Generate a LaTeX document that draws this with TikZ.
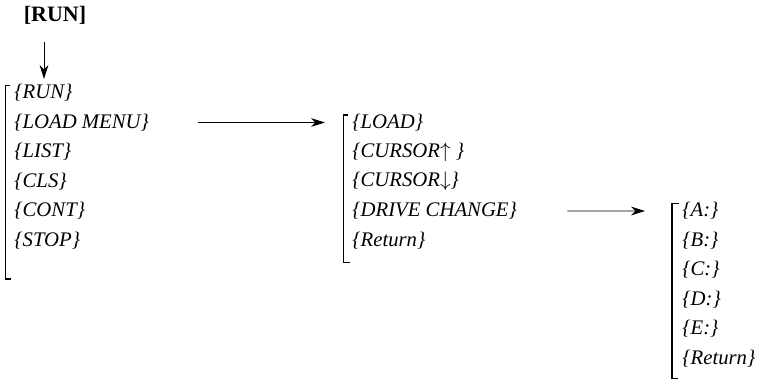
\documentclass[tikz,border=0pt]{standalone}
\usepackage{fontspec}
\setmainfont{Liberation Serif}
\usetikzlibrary{arrows.meta}
\tikzset{
    item/.style={anchor=west, inner sep=0pt, font=\itshape\fontsize{11.8}{14}\selectfont},
    head/.style={inner sep=0pt, font=\bfseries\fontsize{12.5}{15}\selectfont},
    arr/.style={-{Stealth[length=8pt,width=5pt]}, line width=0.55pt},
    brak/.style={line width=0.8pt}
}
\begin{document}
\begin{tikzpicture}
        \useasboundingbox (0,0) rectangle (15.14,-7.62);
        \node [head] (run) at (1.1,-0.30) {[RUN]};
        \coordinate (runtip) at (0.88,-1.58);
        \draw [arr, shorten <=10pt] (run.south -| runtip) -- (runtip);
        \foreach \t [count=\i] in {RUN,LOAD MENU,LIST,CLS,CONT,STOP}
            \node [item] (a\i) at (0.28,{-1.86-0.59*(\i-1)}) {\{\t\}};
        \foreach \t [count=\i] in {LOAD,CURSOR$\uparrow$\ ,CURSOR$\downarrow$,DRIVE CHANGE,Return}
            \node [item] (b\i) at (7.04,{-2.45-0.59*(\i-1)}) {\{\t\}};
        \foreach \t [count=\i] in {A:,B:,C:,D:,E:,Return}
            \node [item] (c\i) at (13.64,{-4.22-0.59*(\i-1)}) {\{\t\}};
        \draw [brak] ([shift={(-0.07,0.15)}]a1.west) -| ([shift={(-0.17,-0.77)}]a6.west) -- ++(0.12,0);
        \draw [brak] ([shift={(-0.07,0.15)}]b1.west) -| ([shift={(-0.17,-0.44)}]b5.west) -- ++(0.12,0);
        \draw [brak] ([shift={(-0.07,0.15)}]c1.west) -| ([shift={(-0.2,-0.40)}]c6.west) -- ++(0.12,0);
        \draw [arr, shorten <=0.98cm, shorten >=0.54cm] (a2) -- (b1);
        \draw [arr, shorten <=1.0cm, shorten >=0.74cm] (b4) -- (c1);
    \end{tikzpicture}
\end{document}
